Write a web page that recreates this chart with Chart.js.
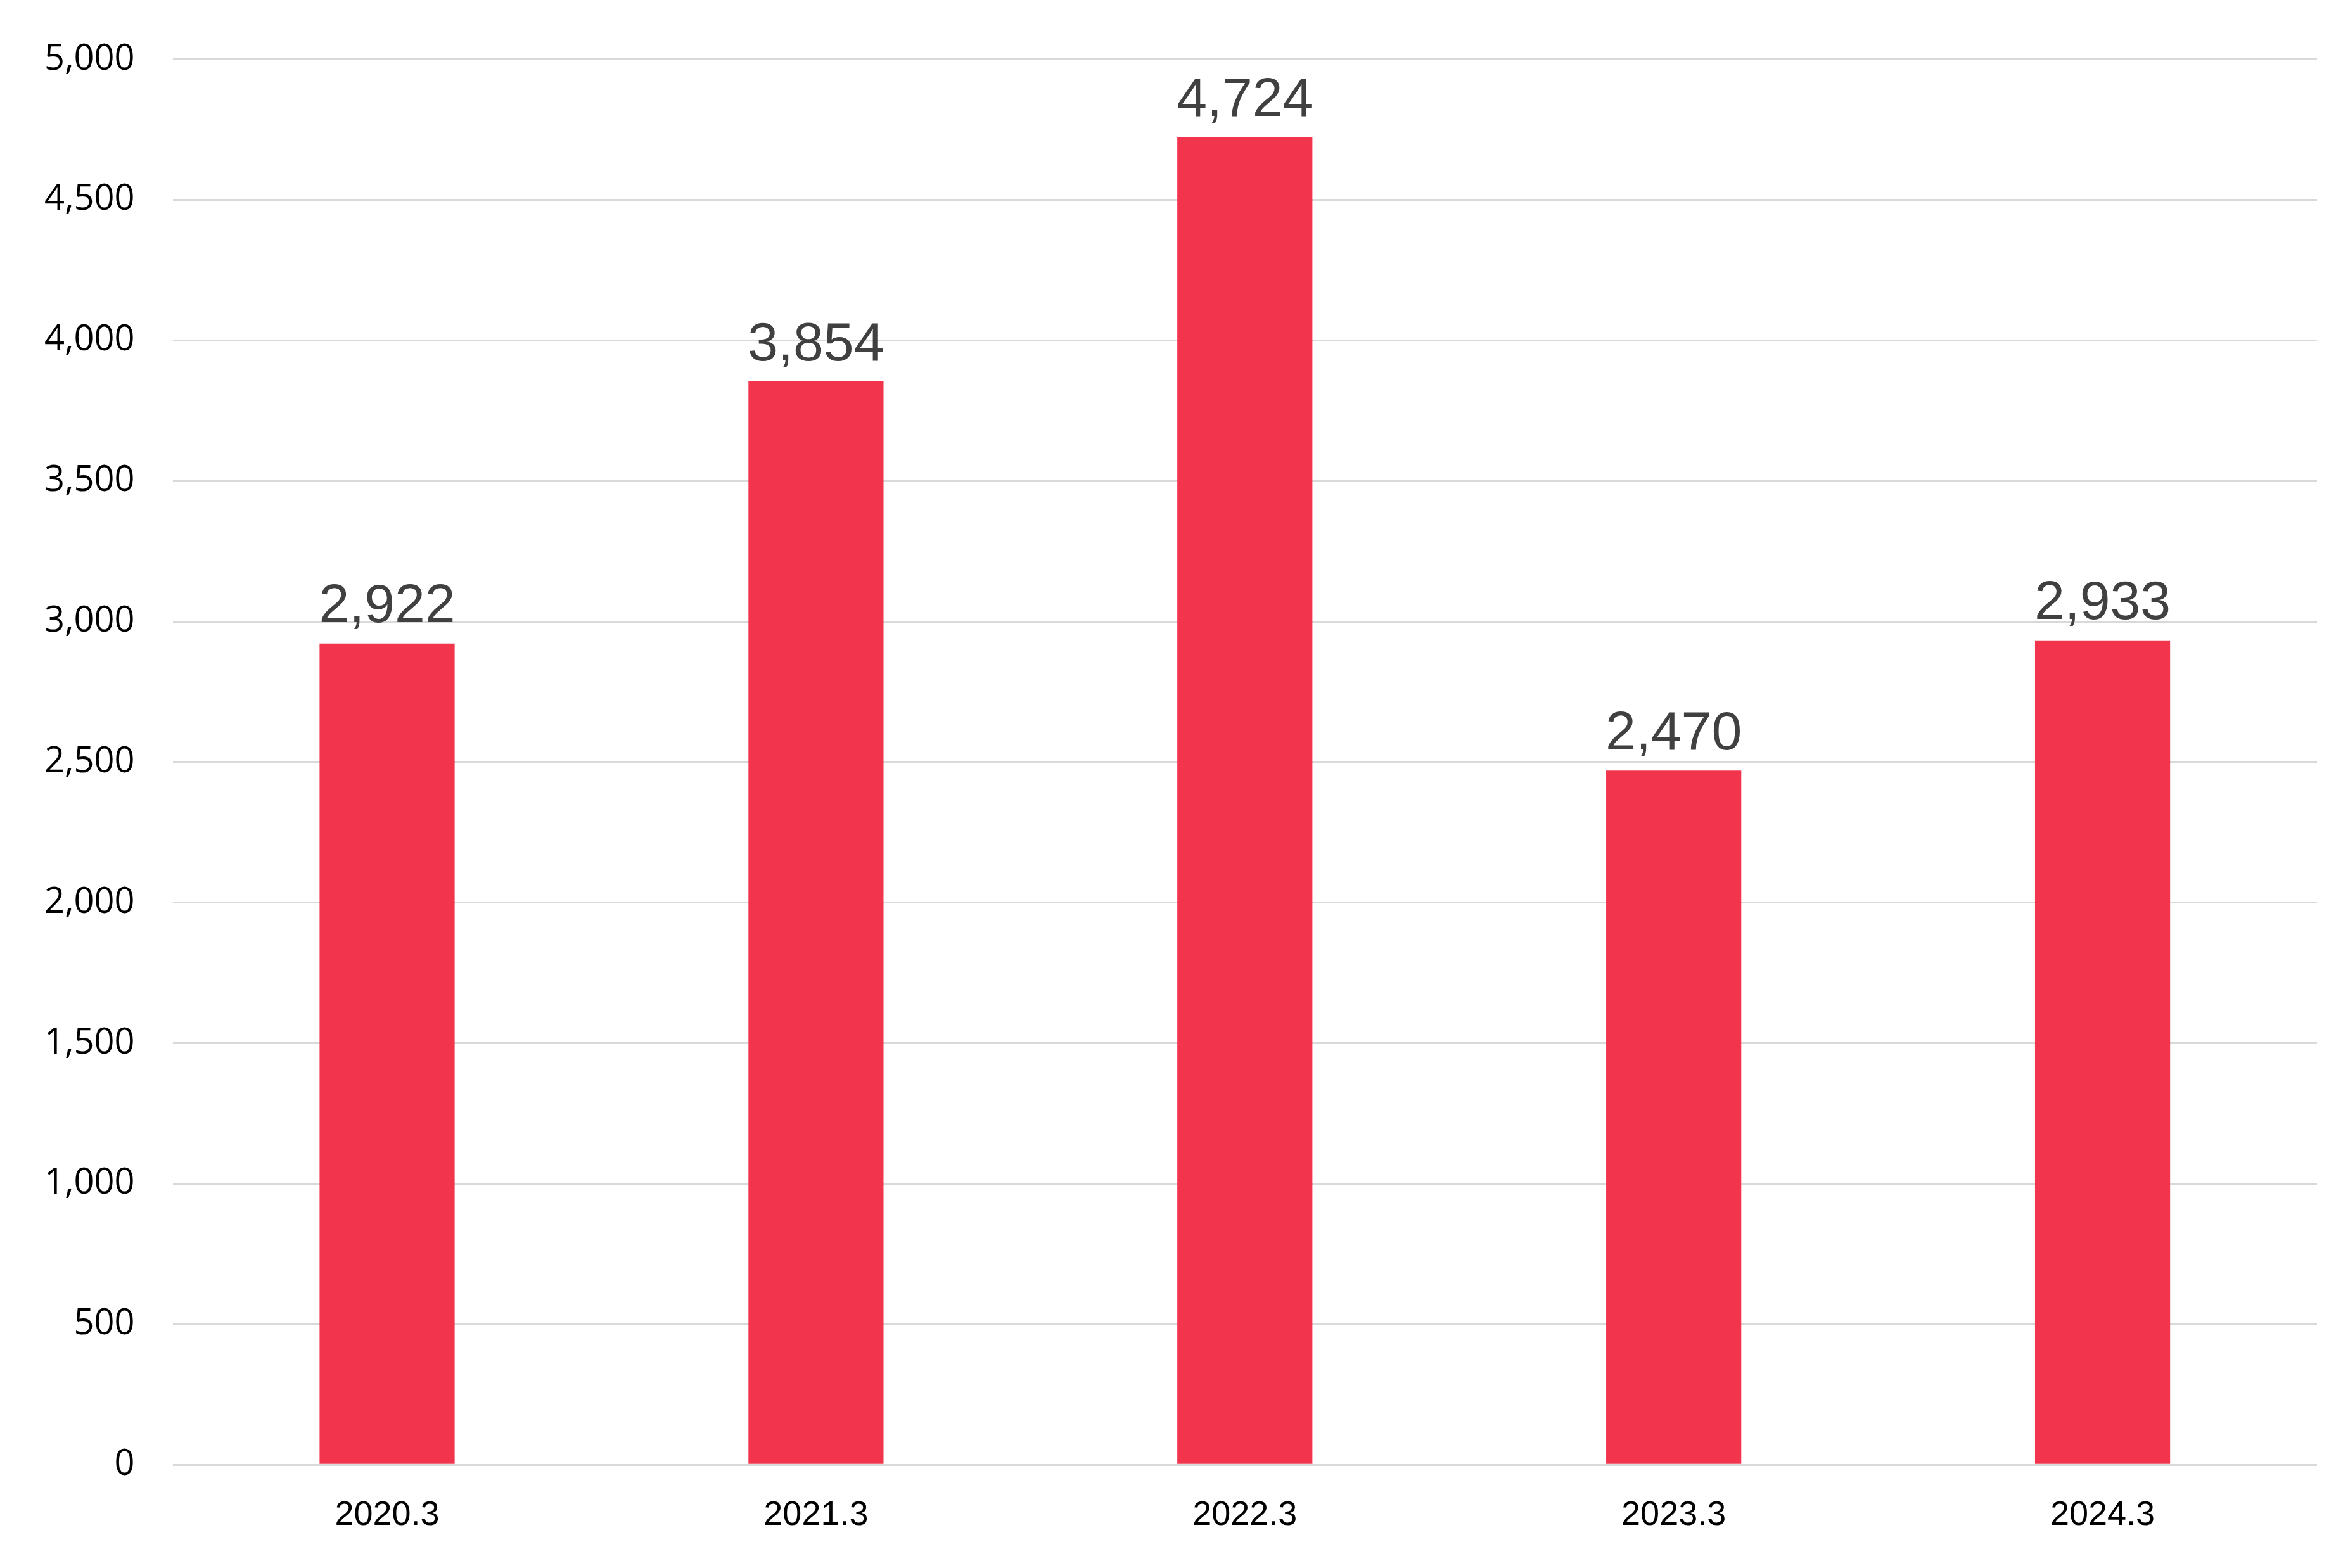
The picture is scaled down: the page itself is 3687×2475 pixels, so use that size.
<!DOCTYPE html>
<html>
<head>
<meta charset="utf-8">
<script src="https://cdn.jsdelivr.net/npm/chart.js@4/dist/chart.umd.min.js"></script>
<style>
html, body { margin: 0; padding: 0; background: #fff; }
#wrap { width: 3687px; height: 2475px; }
</style>
</head>
<body>
<div id="wrap"><canvas id="chart"></canvas></div>
<script>
var categories = ["2020.3", "2021.3", "2022.3", "2023.3", "2024.3"];
var values = [2922, 3854, 4724, 2470, 2933];

// draws the value above each bar
var valueLabels = {
    id: 'valueLabels',
    afterDatasetsDraw: function (chart) {
        var ctx = chart.ctx;
        var meta = chart.getDatasetMeta(0);
        ctx.save();
        ctx.font = '86px Arial, "Liberation Sans", sans-serif';
        ctx.fillStyle = '#404040';
        ctx.textAlign = 'center';
        ctx.textBaseline = 'bottom';
        meta.data.forEach(function (bar, i) {
            ctx.fillText(values[i].toLocaleString('en-US'), bar.x, bar.y - 14);
        });
        ctx.restore();
    }
};

new Chart(document.getElementById('chart').getContext('2d'), {
    type: 'bar',
    data: {
        labels: categories,
        datasets: [{
            data: values,
            backgroundColor: '#F2344D',
            barPercentage: 0.315,
            categoryPercentage: 1
        }]
    },
    options: {
        responsive: true,
        maintainAspectRatio: false,
        devicePixelRatio: 1,
        animation: false,
        layout: { padding: { top: 40, right: 30, bottom: 10, left: 10 } },
        plugins: { legend: { display: false }, tooltip: { enabled: false } },
        scales: {
            x: {
                grid: { display: false },
                border: { display: false },
                ticks: {
                    color: '#000',
                    font: { size: 54, family: 'Arial, "Liberation Sans", sans-serif' },
                    padding: 40
                }
            },
            y: {
                min: 0,
                max: 5000,
                grid: { color: '#d9d9d9', lineWidth: 3, drawTicks: false },
                border: { display: false },
                ticks: {
                    stepSize: 500,
                    color: '#000',
                    padding: 60,
                    font: { size: 56, family: '"Open Sans", "DejaVu Sans", sans-serif' },
                    callback: function (v) { return v.toLocaleString('en-US'); }
                }
            }
        }
    },
    plugins: [valueLabels]
});
</script>
</body>
</html>
